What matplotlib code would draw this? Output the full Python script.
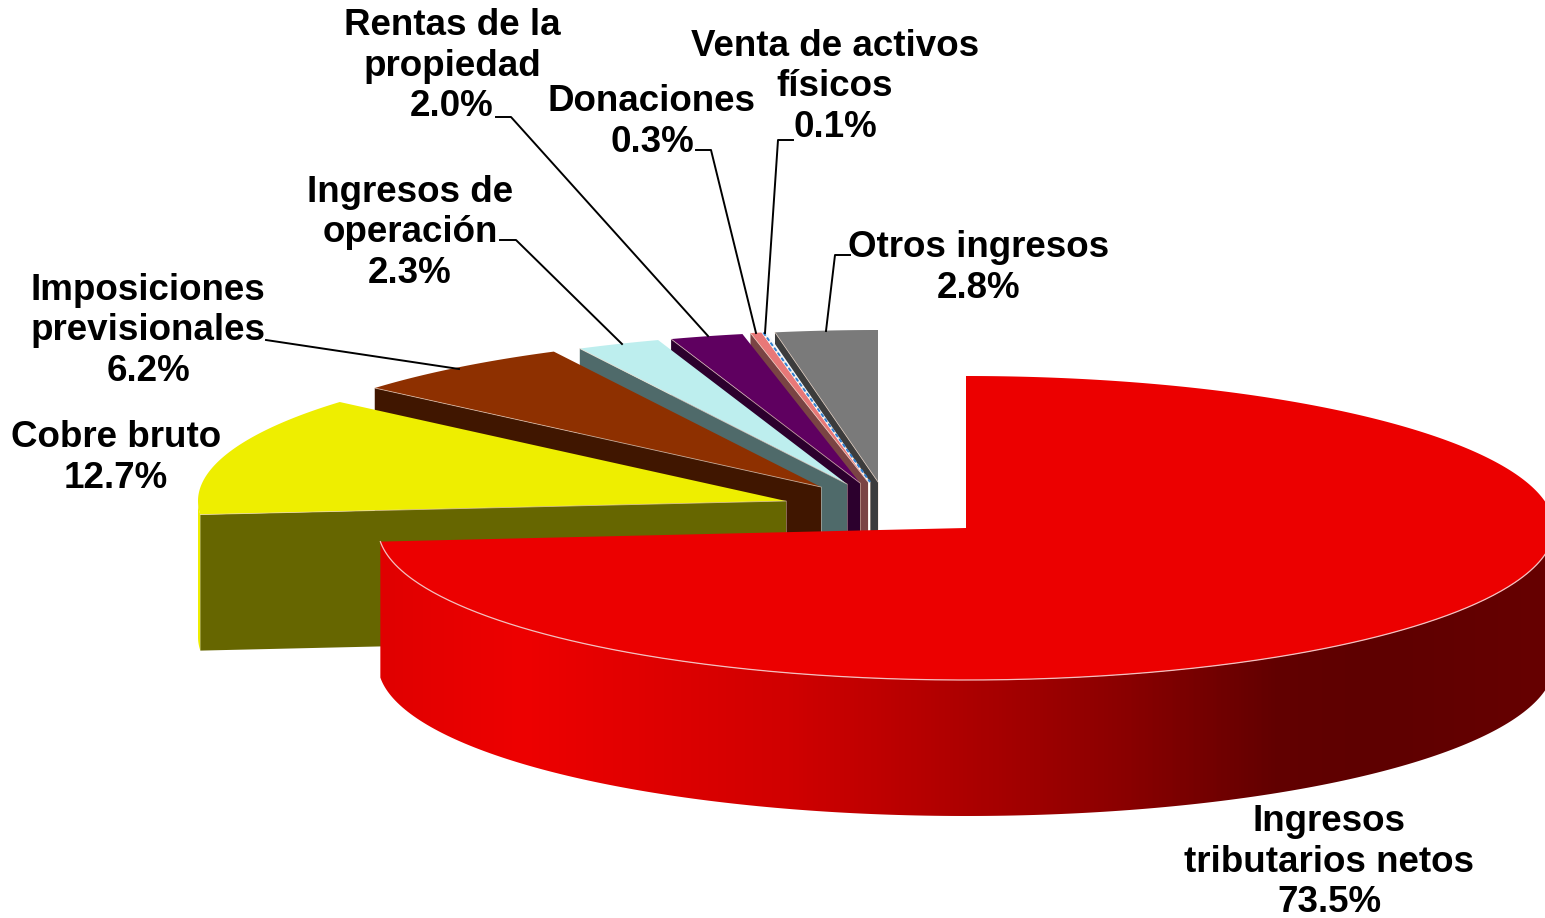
import numpy as np
import matplotlib
matplotlib.use("Agg")
import matplotlib.pyplot as plt
from matplotlib.colors import LinearSegmentedColormap
from matplotlib.patches import Polygon

labels = ["Ingresos\ntributarios netos", "Cobre bruto", "Imposiciones\nprevisionales",
          "Ingresos de\noperación", "Rentas de la\npropiedad", "Donaciones",
          "Venta de activos\nfísicos", "Otros ingresos"]
values = [73.5, 12.7, 6.2, 2.3, 2.0, 0.3, 0.1, 2.8]

top_colors = ["#ec0000", "#eeee00", "#8e3000", "#bdeeee", "#5f0060", "#e87878", "#f4f8fc", "#7a7a7a"]
wall_colors = ["#e00000", "#666600", "#401600", "#4f6a6a", "#2c002d", "#7a4444", "#ffffff", "#3c3c3c"]

# where each slice's tip sits after being pulled out of the pie (pixels)
tips = [(966, 528), (786, 501), (821, 487), (847, 484), (860, 483), (868, 482), (870, 482), (878, 482)]

label_pos = [(1329, 862), (116, 458), (148, 331), (410, 233), (452, 66), (652, 122), (835, 87), (979, 268)]

leaders = [
    [(266, 340), (459, 369)],
    [(500, 240), (516, 240), (622, 344)],
    [(496, 117), (511, 117), (708, 336)],
    [(696, 150), (711, 150), (756, 333)],
    [(793, 140), (778, 140), (765, 333)],
    [(850, 255), (835, 255), (826, 331)],
]

rx = 588
ry = 152
depth = 136

fig = plt.figure(figsize=(15.45, 9.18), dpi=100)
ax = fig.add_axes([0, 0, 1, 1])


def rim(tip, a0, a1, n=200):
    # angles run clockwise from twelve o'clock
    t = np.radians(np.linspace(a0, a1, n))
    return np.column_stack([tip[0] + rx * np.sin(t), tip[1] - ry * np.cos(t)])


shares = np.array(values) / sum(values) * 360
ends = np.cumsum(shares)
starts = ends - shares

# back slices first, the big red one goes last
for i in range(len(values) - 1, 0, -1):
    tip = np.array(tips[i], float)
    arc = rim(tip, starts[i], ends[i])
    outer = arc[0]
    wall = np.array([outer, tip, tip + [0, depth], outer + [0, depth]])
    if i == 1:
        # bit of the yellow rim that faces left
        side = rim(tip, starts[i], 270, 30)
        ax.add_patch(Polygon(np.vstack([side, side[::-1] + [0, depth]]), fc=top_colors[i], ec="none"))
    ax.add_patch(Polygon(wall, fc=wall_colors[i], ec="none"))
    ax.add_patch(Polygon(np.vstack([tip, arc]), fc=top_colors[i], ec="none"))
    ax.plot([outer[0], tip[0]], [outer[1], tip[1]], color="#f0d8c8", lw=0.6, alpha=0.7)
    ax.plot([tip[0], tip[0]], [tip[1], tip[1] + depth], color="#f0d8c8", lw=0.6, alpha=0.5)
    if i == 6:
        ax.plot([outer[0], tip[0]], [outer[1], tip[1]], color="#2f7fd0", lw=1.4, ls=(0, (2, 1.2)))

# red rim with the shading running left to right
tip = np.array(tips[0], float)
front = rim(tip, 90, starts[0] + shares[0])
rim_poly = Polygon(np.vstack([front, front[::-1] + [0, depth]]), fc="none", ec="none")
ax.add_patch(rim_poly)
shade = LinearSegmentedColormap.from_list("shade", [
    (0.0, "#e00000"), (0.12, "#ee0000"), (0.35, "#d00000"), (0.49, "#b00000"),
    (0.64, "#8a0000"), (0.77, "#620000"), (0.85, "#5e0000"), (1.0, "#660000")])
im = ax.imshow(np.linspace(0, 1, 600)[None, :], cmap=shade, aspect="auto",
               extent=(380, 1545, 918, 300), zorder=2)
im.set_clip_path(rim_poly)

arc = rim(tip, 0, ends[0], 500)
ax.add_patch(Polygon(np.vstack([tip, arc]), fc=top_colors[0], ec="none", zorder=3))
front_edge = rim(tip, 90, ends[0], 300)
ax.plot(front_edge[:, 0], front_edge[:, 1], color="#f4c0c0", lw=0.9, zorder=4)

for pts in leaders:
    pts = np.array(pts)
    ax.plot(pts[:, 0], pts[:, 1], color="black", lw=1.4, zorder=5)

for lab, val, (x, y) in zip(labels, values, label_pos):
    ax.text(x, y, f"{lab}\n{val}%", ha="center", va="center", fontsize=26.5, fontweight="bold",
            family="Liberation Sans", linespacing=1.2, color="black", zorder=6)

ax.set_xlim(0, 1545)
ax.set_ylim(918, 0)
ax.axis("off")
fig.savefig("out.png", dpi=100, facecolor="white")
